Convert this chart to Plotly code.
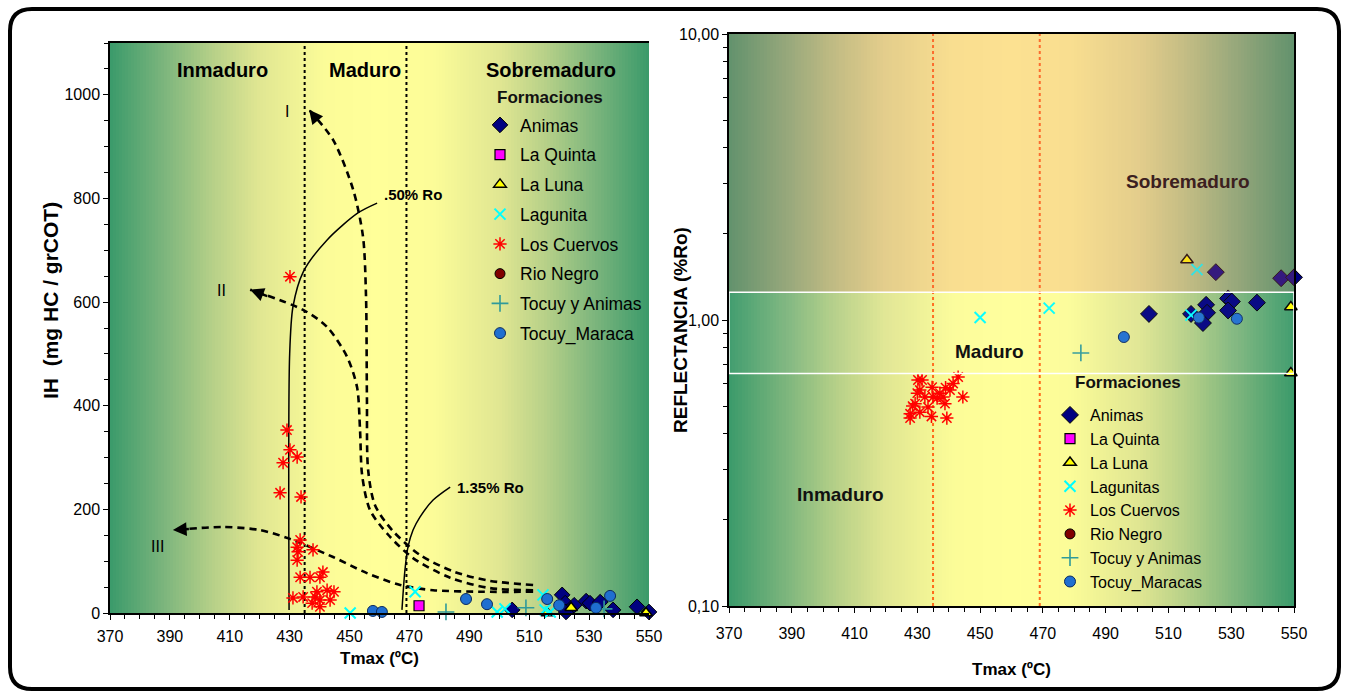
import numpy as np
import plotly.graph_objects as go

W, H = 1348, 694

# ---------------- zone limits ----------------
tmax_range = [370, 550]
ih_range = [0, 1100]
tmax_mature_start = 435
tmax_mature_end = 469
ro_mature_low = 0.65
ro_mature_high = 1.25

# ---------------- LEFT CHART: IH vs Tmax ----------------
L_animas_T = [504.3, 521, 522, 522.3, 525, 529, 530.3, 533.7, 538, 546, 550]
L_animas_IH = [6, 35, 19, 2, 15, 23, 19, 21, 6, 12, 2]
L_laquinta_T = [473.2]
L_laquinta_IH = [14]
L_laluna_T = [516, 524, 549]
L_laluna_IH = [0, 10, 0]
L_lagunita_T = [450.2, 471.9, 499.3, 501.9, 514.6, 515.3, 517]
L_lagunita_IH = [0, 41, 2, 8, 35, 6, 2]
L_cuervos_T = [430.1, 429.1, 430.1, 427.8, 432.5, 426.8, 433.8, 433.5, 432.5, 432.8, 432.5,
               437.8, 433.5, 436.8, 440.1, 441.1, 431.1, 434.5, 437.5, 438.5, 439.1, 440.1,
               442.5, 443.5, 444.8, 440.1]
L_cuervos_IH = [649, 353, 315, 290, 301, 232, 224, 141, 127, 118, 102,
                122, 69, 69, 69, 79, 29, 31, 19, 31, 41, 25,
                44, 25, 41, 12]
L_rionegro_T = [None]
L_rionegro_IH = [None]
L_tocuyanimas_T = [482.2, 508.9, 535]
L_tocuyanimas_IH = [2, 10, 8]
L_tocuymaraca_T = [457.8, 460.8, 488.9, 495.9, 516, 520, 532.3, 537]
L_tocuymaraca_IH = [4, 2, 27, 17, 27, 15, 10, 33]

# kerogen evolution paths (listed from tail to arrow head)
curve_I_T = [511.3, 496.9, 485.2, 473.5, 464.2, 458.5, 456.2, 455.8, 455.5, 454.5, 451.2, 444.5, 436.5]
curve_I_IH = [54, 62, 79, 112, 160, 208, 276, 417, 610, 726, 817, 913, 971]
curve_II_T = [511.3, 496.9, 483.6, 471.2, 462.9, 456.8, 454.2, 453.5, 452.5, 449.2, 442.5, 434.5, 416.8]
curve_II_IH = [44, 48, 68, 106, 151, 199, 266, 353, 436, 494, 552, 585, 624]
curve_III_T = [511.3, 494.6, 477.9, 466.9, 455.8, 444.5, 430.1, 420.1, 407.7, 391]
curve_III_IH = [41, 41, 44, 54, 77, 108, 143, 160, 166, 160]
# iso-reflectance lines
ro050_T = [459.2, 452.8, 442.5, 434.5, 431.1, 430.0, 429.8]
ro050_IH = [791, 772, 720, 658, 591, 500, 6]
ro135_T = [483.6, 477.9, 473.5, 471.2, 469.5, 468.5, 467.5]
ro135_IH = [243, 218, 185, 160, 127, 83, 6]

curve_labels = ["I", "II", "III", "<b>.50% Ro</b>", "<b>1.35% Ro</b>"]
curve_label_T = [429.1, 407.4, 385.7, 471.2, 496.9]
curve_label_IH = [967, 622, 129, 807, 243]

zone_labels = ["Inmaduro", "Maduro", "Sobremaduro"]
L_zone_T = [407.7, 455.2, 517.3]
L_zone_IH = [1048, 1048, 1048]

# ---------------- RIGHT CHART: Ro vs Tmax ----------------
R_animas_T = [525.1, 545.9, 550, 503.8, 517.2, 522, 522.3, 521, 529, 530.2, 529, 538.2]
R_animas_Ro = [1.47, 1.40, 1.41, 1.05, 1.05, 1.13, 1.06, 0.976, 1.19, 1.16, 1.08, 1.15]
R_laquinta_T = [None]
R_laquinta_Ro = [None]
R_laluna_T = [515.9, 549, 549]
R_laluna_Ro = [1.62, 1.11, 0.653]
R_lagunitas_T = [450, 472, 519.1, 517.2]
R_lagunitas_Ro = [1.02, 1.10, 1.50, 1.04]
R_cuervos_T = [427.7, 427.7, 429.3, 430.2, 431.5, 430.8, 432.4, 433.4, 434.7, 435, 436.3, 437.2,
               438.2, 438.8, 439.4, 440.4, 441.4, 443, 444.5, 430.8, 430.0, 428.5, 434.5, 439.0]
R_cuervos_Ro = [0.454, 0.47, 0.51, 0.617, 0.617, 0.569, 0.538, 0.496, 0.582, 0.538, 0.533, 0.555,
                0.538, 0.51, 0.454, 0.569, 0.60, 0.632, 0.538, 0.476, 0.555, 0.50, 0.46, 0.58]
R_rionegro_T = [None]
R_rionegro_Ro = [None]
R_tocuyanimas_T = [482.1]
R_tocuyanimas_Ro = [0.767]
R_tocuymaracas_T = [495.8, 519.7, 531.8]
R_tocuymaracas_Ro = [0.872, 1.02, 1.01]

R_zone_T = [405.4, 453.1, 516.2]
R_zone_Ro = [0.246, 0.773, 3.06]

# ---------------- styles ----------------
FONT = "Arial, Liberation Sans, sans-serif"
GREEN = "#3A9A6A"
styles = {
    "Animas": dict(symbol="diamond", size=12, color="#000080", line=dict(color="#000000", width=1)),
    "La Quinta": dict(symbol="square", size=10, color="#FF00FF", line=dict(color="#000000", width=1.2)),
    "La Luna": dict(symbol="triangle-up", size=11, color="#FFFF00", line=dict(color="#000000", width=1.5)),
    "Lagunita": dict(symbol="x-thin-open", size=11, color="#00FFFF", line=dict(color="#00FFFF", width=2)),
    "Los Cuervos": dict(symbol="asterisk-open", size=11, color="#FF0000", line=dict(color="#FF0000", width=1.5)),
    "Rio Negro": dict(symbol="circle", size=10, color="#800000", line=dict(color="#000000", width=1)),
    "Tocuy y Animas": dict(symbol="cross-thin-open", size=12, color="#2F9A9A", line=dict(color="#2F9A9A", width=1.6)),
    "Tocuy_Maraca": dict(symbol="circle", size=11, color="#1F6FD0", line=dict(color="#0A2A60", width=1)),
}

fig = go.Figure()

# gradient backgrounds
bg_edges = np.linspace(tmax_range[0], tmax_range[1], 181)
bg_centers = (bg_edges[:-1] + bg_edges[1:]) / 2
mid = (tmax_range[0] + tmax_range[1]) / 2
half = (tmax_range[1] - tmax_range[0]) / 2
bg_z = np.abs(bg_centers - mid) / half
cscale = [[0, "#FFFF99"], [0.2, "#FCFC98"], [0.45, "#E0E692"], [0.62, "#B6D088"],
          [0.8, "#7CB57D"], [1, GREEN]]
fig.add_trace(go.Heatmap(x=bg_edges, y=ih_range, z=[bg_z], colorscale=cscale, zmin=0, zmax=1,
                         showscale=False, hoverinfo="skip", xaxis="x", yaxis="y"))
fig.add_trace(go.Heatmap(x=bg_edges, y=[0.1, 10], z=[bg_z], colorscale=cscale, zmin=0, zmax=1,
                         showscale=False, hoverinfo="skip", xaxis="x2", yaxis="y2"))

# maturity boundary lines
for t in (tmax_mature_start, tmax_mature_end):
    fig.add_trace(go.Scatter(x=[t, t], y=ih_range, mode="lines", showlegend=False, hoverinfo="skip",
                             line=dict(color="black", width=2, dash="dot"), xaxis="x", yaxis="y"))
    fig.add_trace(go.Scatter(x=[t, t], y=[0.1, 10], mode="lines", showlegend=False, hoverinfo="skip",
                             line=dict(color="#FF6A1A", width=2, dash="dot"), xaxis="x2", yaxis="y2"))

# iso-Ro lines
for xs, ys in ((ro050_T, ro050_IH), (ro135_T, ro135_IH)):
    fig.add_trace(go.Scatter(x=xs, y=ys, mode="lines", showlegend=False, hoverinfo="skip",
                             line=dict(color="black", width=1.5, shape="spline", smoothing=0.8),
                             xaxis="x", yaxis="y"))

annotations = []
# kerogen paths with arrow heads at the end
for xs, ys in ((curve_I_T, curve_I_IH), (curve_II_T, curve_II_IH), (curve_III_T, curve_III_IH)):
    fig.add_trace(go.Scatter(x=xs, y=ys, mode="lines", showlegend=False, hoverinfo="skip",
                             line=dict(color="black", width=2.6, dash="7px,5px", shape="spline", smoothing=0.8),
                             xaxis="x", yaxis="y"))
    hx, hy, px_, py_ = xs[-1], ys[-1], xs[-2], ys[-2]
    annotations.append(dict(x=hx, y=hy, ax=hx + 0.35 * (px_ - hx), ay=hy + 0.35 * (py_ - hy),
                            xref="x", yref="y", axref="x", ayref="y", text="", showarrow=True,
                            arrowhead=2, arrowsize=1.1, arrowwidth=2.5, arrowcolor="black", standoff=0))

left_series = [
    ("Animas", "Animas", L_animas_T, L_animas_IH),
    ("La Quinta", "La Quinta", L_laquinta_T, L_laquinta_IH),
    ("La Luna", "La Luna", L_laluna_T, L_laluna_IH),
    ("Lagunita", "Lagunita", L_lagunita_T, L_lagunita_IH),
    ("Los Cuervos", "Los Cuervos", L_cuervos_T, L_cuervos_IH),
    ("Rio Negro", "Rio Negro", L_rionegro_T, L_rionegro_IH),
    ("Tocuy y Animas", "Tocuy y Animas", L_tocuyanimas_T, L_tocuyanimas_IH),
    ("Tocuy_Maraca", "Tocuy_Maraca", L_tocuymaraca_T, L_tocuymaraca_IH),
]
for name, sty, xs, ys in left_series:
    fig.add_trace(go.Scatter(x=xs, y=ys, mode="markers", name=name, marker=styles[sty],
                             legend="legend", legendgroup="L" + name, cliponaxis=False,
                             xaxis="x", yaxis="y"))

right_series = [
    ("Animas", "Animas", R_animas_T, R_animas_Ro),
    ("La Quinta", "La Quinta", R_laquinta_T, R_laquinta_Ro),
    ("La Luna", "La Luna", R_laluna_T, R_laluna_Ro),
    ("Lagunitas", "Lagunita", R_lagunitas_T, R_lagunitas_Ro),
    ("Los Cuervos", "Los Cuervos", R_cuervos_T, R_cuervos_Ro),
    ("Rio Negro", "Rio Negro", R_rionegro_T, R_rionegro_Ro),
    ("Tocuy y Animas", "Tocuy y Animas", R_tocuyanimas_T, R_tocuyanimas_Ro),
    ("Tocuy_Maracas", "Tocuy_Maraca", R_tocuymaracas_T, R_tocuymaracas_Ro),
]
for name, sty, xs, ys in right_series:
    st = dict(styles[sty])
    if sty == "Animas":
        st["size"] = 13
    fig.add_trace(go.Scatter(x=xs, y=ys, mode="markers", name=name, marker=st,
                             legend="legend2", legendgroup="R" + name, cliponaxis=False,
                             xaxis="x2", yaxis="y2"))

for txt, tx, ty in zip(curve_labels, curve_label_T, curve_label_IH):
    annotations.append(dict(x=tx, y=ty, xref="x", yref="y", text=txt, showarrow=False,
                            font=dict(family=FONT, size=15 if "Ro" in txt else 16, color="black")))
for txt, tx, ty in zip(zone_labels, L_zone_T, L_zone_IH):
    annotations.append(dict(x=tx, y=ty, xref="x", yref="y", text="<b>%s</b>" % txt, showarrow=False,
                            font=dict(family=FONT, size=20, color="black")))
zone_colors = ["#111111", "#111111", "#3C2020"]
for txt, tx, ty, c in zip(zone_labels, R_zone_T, R_zone_Ro, zone_colors):
    annotations.append(dict(x=tx, y=np.log10(ty), xref="x2", yref="y2", text="<b>%s</b>" % txt,
                            showarrow=False, font=dict(family=FONT, size=19, color=c)))
# legend headings
annotations.append(dict(x=495 / W, y=1 - 97 / H, xref="paper", yref="paper", xanchor="left", yanchor="middle",
                        text="<b>Formaciones</b>", showarrow=False, font=dict(family=FONT, size=17, color="#111111")))
annotations.append(dict(x=1073 / W, y=1 - 382 / H, xref="paper", yref="paper", xanchor="left", yanchor="middle",
                        text="<b>Formaciones</b>", showarrow=False, font=dict(family=FONT, size=17, color="#111111")))
# y-axis titles
annotations.append(dict(x=50 / W, y=1 - 300 / H, xref="paper", yref="paper", textangle=-90,
                        xanchor="center", yanchor="middle",
                        text="<b>IH  (mg HC / grCOT)</b>", showarrow=False,
                        font=dict(family=FONT, size=21, color="black")))
annotations.append(dict(x=680 / W, y=1 - 330 / H, xref="paper", yref="paper", textangle=-90,
                        xanchor="center", yanchor="middle",
                        text="<b>REFLECTANCIA (%Ro)</b>", showarrow=False,
                        font=dict(family=FONT, size=19, color="black")))

# rounded outer frame
x0, y0, x1, y1, r = 10, 9, 1339, 689, 22
def P(x, y):
    return "%.5f %.5f" % (x / W, 1 - y / H)
frame = ("M " + P(x0 + r, y0) + " L " + P(x1 - r, y0) + " Q " + P(x1, y0) + " " + P(x1, y0 + r) +
         " L " + P(x1, y1 - r) + " Q " + P(x1, y1) + " " + P(x1 - r, y1) +
         " L " + P(x0 + r, y1) + " Q " + P(x0, y1) + " " + P(x0, y1 - r) +
         " L " + P(x0, y0 + r) + " Q " + P(x0, y0) + " " + P(x0 + r, y0) + " Z")

shapes = [
    dict(type="rect", xref="x2", yref="y2", x0=tmax_range[0], x1=tmax_range[1], y0=ro_mature_high, y1=10,
         fillcolor="rgba(240,120,120,0.22)", line=dict(width=0), layer="above"),
    dict(type="rect", xref="x2", yref="y2", x0=tmax_range[0], x1=tmax_range[1], y0=ro_mature_low,
         y1=ro_mature_high, fillcolor="rgba(255,255,255,0.04)", line=dict(color="white", width=1.5), layer="above"),
    dict(type="path", xref="paper", yref="paper", path=frame, line=dict(color="black", width=4)),
]

tickfont = dict(family=FONT, size=16, color="black")
titlefont = dict(family=FONT, size=17, color="black")
common_x = dict(ticks="outside", ticklen=5, tickcolor="black", tickwidth=1, showgrid=False, zeroline=False,
                showline=True, linecolor="black", linewidth=1.5, tickfont=tickfont, automargin=False,
                minor=dict(dtick=5, ticks="outside", ticklen=4, tickcolor="black"))

fig.update_layout(
    width=W, height=H, margin=dict(l=0, r=0, t=0, b=0),
    paper_bgcolor="white", plot_bgcolor="white",
    font=dict(family=FONT),
    xaxis=dict(domain=[110 / W, 649 / W], range=tmax_range, anchor="y", tickvals=list(range(370, 551, 20)),
               mirror=True, ticklabelstandoff=3,
               title=dict(text="<b>Tmax (ºC)</b>", font=titlefont, standoff=8), **common_x),
    yaxis=dict(domain=[1 - 613 / H, 1 - 43 / H], range=ih_range, anchor="x", tickvals=list(range(0, 1001, 200)),
               ticks="outside", ticklen=5, tickcolor="black", showgrid=False, zeroline=False, showline=True,
               linecolor="black", linewidth=1.5, tickfont=tickfont, automargin=False,
               minor=dict(dtick=50, ticks="outside", ticklen=4, tickcolor="black")),
    xaxis2=dict(domain=[729 / W, 1294 / W], range=tmax_range, anchor="y2", tickvals=list(range(370, 551, 20)),
                mirror=True, ticklabelstandoff=7,
                title=dict(text="<b>Tmax (ºC)</b>", font=titlefont, standoff=22), **common_x),
    yaxis2=dict(domain=[1 - 606 / H, 1 - 34 / H], type="log", range=[-1, 1], anchor="x2",
                tickvals=[0.1, 1, 10], ticktext=["0,10", "1,00", "10,00"],
                ticks="outside", ticklen=5, tickcolor="black", showgrid=False, zeroline=False, showline=True,
                mirror=True, linecolor="black", linewidth=1.5, tickfont=tickfont, automargin=False,
                minor=dict(tickvals=[0.2, 0.3, 0.4, 0.5, 0.6, 0.7, 0.8, 0.9, 2, 3, 4, 5, 6, 7, 8, 9],
                           ticks="outside", ticklen=4, tickcolor="black")),
    legend=dict(x=480 / W, y=1 - 107 / H, xanchor="left", yanchor="top", bgcolor="rgba(0,0,0,0)",
                font=dict(family=FONT, size=17.5, color="black"), tracegroupgap=4, itemclick=False),
    legend2=dict(x=1050 / W, y=1 - 398 / H, xanchor="left", yanchor="top", bgcolor="rgba(0,0,0,0)",
                 font=dict(family=FONT, size=16, color="black"), tracegroupgap=0, itemclick=False),
    annotations=annotations,
    shapes=shapes,
)

fig.write_html("out.html", config={"displayModeBar": False},
               post_script="document.body.style.margin='0px';")
